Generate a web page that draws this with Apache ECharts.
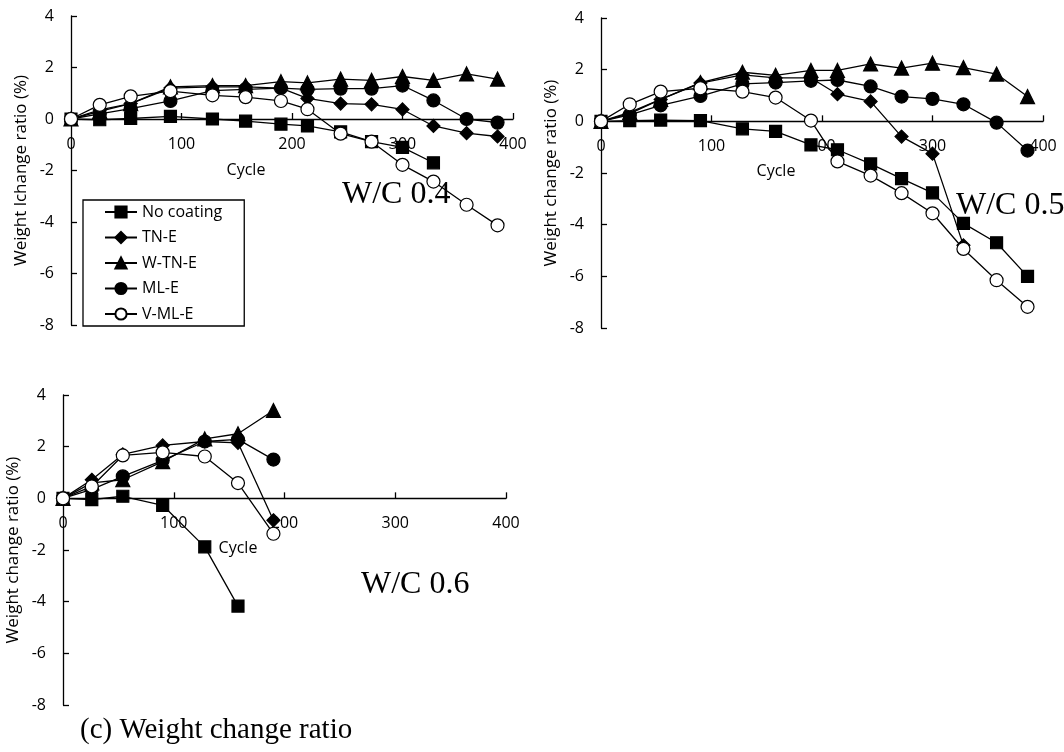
<!DOCTYPE html>
<html>
<head>
<meta charset="utf-8">
<title>Weight change ratio</title>
<script src="https://cdn.jsdelivr.net/npm/echarts@6.0.0/dist/echarts.min.js"></script>
<style>
  html, body { margin: 0; padding: 0; background: #fff; }
  #chart { width: 1064px; height: 752px; }
</style>
</head>
<body>
<div id="chart"></div>
<script>
// freeze-thaw cycles, shared by the three panels
const cycles = [0, 26, 54, 90, 128, 158, 190, 214, 244, 272, 300, 328, 358, 386];
const seriesNames = ['No coating', 'TN-E', 'W-TN-E', 'ML-E', 'V-ML-E'];
const xTicks = [0, 100, 200, 300, 400];
const yTicks = [-8, -6, -4, -2, 0, 2, 4];

// W/C 0.4
const wc04NoCoating = [0, -0.03, 0.02, 0.1, 0, -0.08, -0.2, -0.27, -0.5, -0.88, -1.1, -1.7];
const wc04TNE = [0, 0.35, 0.6, 1.2, 1.25, 1.25, 1.2, 0.8, 0.6, 0.57, 0.37, -0.27, -0.55, -0.68];
const wc04WTNE = [0, 0.3, 0.6, 1.25, 1.3, 1.3, 1.45, 1.4, 1.55, 1.5, 1.65, 1.5, 1.75, 1.55];
const wc04MLE = [0, 0.2, 0.4, 0.7, 1.1, 1.15, 1.2, 1.15, 1.18, 1.18, 1.3, 0.72, 0, -0.14];
const wc04VMLE = [0, 0.55, 0.88, 1.08, 0.92, 0.85, 0.7, 0.38, -0.57, -0.88, -1.78, -2.43, -3.33, -4.13];

// W/C 0.5
const wc05NoCoating = [0, 0.03, 0.05, 0.03, -0.29, -0.39, -0.91, -1.1, -1.65, -2.22, -2.77, -3.95, -4.7, -6.0];
const wc05TNE = [0, 0.3, 0.85, 1.48, 1.8, 1.68, 1.68, 1.05, 0.77, -0.59, -1.25, -4.8];
const wc05WTNE = [0, 0.35, 0.85, 1.5, 1.9, 1.78, 1.97, 1.97, 2.22, 2.06, 2.25, 2.08, 1.83, 0.96];
const wc05MLE = [0, 0.25, 0.62, 0.98, 1.45, 1.5, 1.57, 1.6, 1.35, 0.96, 0.87, 0.66, -0.05, -1.13];
const wc05VMLE = [0, 0.66, 1.15, 1.28, 1.15, 0.92, 0.03, -1.55, -2.1, -2.78, -3.56, -4.94, -6.15, -7.18];

// W/C 0.6
const wc06NoCoating = [0, -0.05, 0.08, -0.27, -1.88, -4.17];
const wc06TNE = [0, 0.72, 1.7, 2.05, 2.2, 2.15, -0.85];
const wc06WTNE = [0, 0.6, 0.72, 1.42, 2.3, 2.5, 3.4];
const wc06MLE = [0, 0.35, 0.85, 1.47, 2.2, 2.28, 1.5];
const wc06VMLE = [0, 0.46, 1.66, 1.78, 1.62, 0.59, -1.37];

const panels = [
  { yName: 'Weight lchange ratio (%)', data: [wc04NoCoating, wc04TNE, wc04WTNE, wc04MLE, wc04VMLE] },
  { yName: 'Weight change ratio (%)', data: [wc05NoCoating, wc05TNE, wc05WTNE, wc05MLE, wc05VMLE] },
  { yName: 'Weight change ratio (%)', data: [wc06NoCoating, wc06TNE, wc06WTNE, wc06MLE, wc06VMLE] }
];

const marks = {
  'No coating': { symbol: 'rect', size: 12, fill: '#000' },
  'TN-E': { symbol: 'diamond', size: 13, fill: '#000' },
  'W-TN-E': { symbol: 'triangle', size: 14, fill: '#000' },
  'ML-E': { symbol: 'circle', size: 13, fill: '#000' },
  'V-ML-E': { symbol: 'circle', size: 13, fill: '#fff' }
};

const sans = '"Open Sans", "DejaVu Sans", sans-serif';
const serif = '"Liberation Serif", "DejaVu Serif", serif';

const chart = echarts.init(document.getElementById('chart'));

const grids = [
  { left: 71, top: 16, width: 442, height: 309 },
  { left: 601, top: 18, width: 442, height: 310 },
  { left: 63, top: 395, width: 443, height: 310 }
];

// the x axis sits on y = 0; move it up from the grid bottom by the
// share of the y range that lies below zero
const yMin = yTicks[0], yMax = yTicks[yTicks.length - 1];
const xAxes = grids.map((g, i) => ({
  type: 'value',
  gridIndex: i,
  min: xTicks[0],
  max: xTicks[xTicks.length - 1],
  interval: 100,
  offset: -g.height * (0 - yMin) / (yMax - yMin),
  axisLine: { onZero: false, lineStyle: { color: '#000', width: 1.3 } },
  axisTick: { inside: true, length: 6, lineStyle: { color: '#000', width: 1.3 } },
  axisLabel: { margin: 17, color: '#000', fontSize: 16, fontFamily: sans },
  splitLine: { show: false }
}));

const yAxes = grids.map((g, i) => ({
  type: 'value',
  gridIndex: i,
  min: yMin,
  max: yMax,
  interval: 2,
  name: panels[i].yName,
  nameLocation: 'middle',
  nameGap: 41,
  nameTextStyle: { color: '#000', fontSize: 17, fontFamily: sans },
  axisLine: { show: true, onZero: false, lineStyle: { color: '#000', width: 1.3 } },
  axisTick: { show: true, inside: true, length: 6, lineStyle: { color: '#000', width: 1.3 } },
  axisLabel: { margin: 17, color: '#000', fontSize: 16, fontFamily: sans },
  splitLine: { show: false }
}));

const series = [];
panels.forEach((p, i) => {
  p.data.forEach((vals, k) => {
    const name = seriesNames[k];
    const m = marks[name];
    series.push({
      name: name,
      type: 'line',
      xAxisIndex: i,
      yAxisIndex: i,
      data: vals.map((v, j) => [cycles[j], v]),
      symbol: m.symbol,
      symbolSize: m.size,
      showAllSymbol: true,
      lineStyle: { color: '#000', width: 1.3 },
      itemStyle: { color: m.fill, borderColor: '#000', borderWidth: 1.2 },
      emphasis: { disabled: true },
      animation: false
    });
  });
});

const text = (x, y, str, font, align) => ({
  type: 'text',
  x: x,
  y: y,
  style: { text: str, font: font, fill: '#000', align: align || 'left', verticalAlign: 'middle' }
});

chart.setOption({
  backgroundColor: '#fff',
  animation: false,
  grid: grids,
  xAxis: xAxes,
  yAxis: yAxes,
  legend: {
    data: seriesNames,
    orient: 'vertical',
    left: 83,
    top: 200,
    itemWidth: 32,
    itemHeight: 14,
    itemGap: 9.5,
    padding: [4, 22, 4, 21],
    borderColor: '#000',
    borderWidth: 1.3,
    selectedMode: false,
    textStyle: { color: '#000', fontSize: 16, lineHeight: 16, fontFamily: sans }
  },
  graphic: [
    text(246, 170, 'Cycle', '16px ' + sans, 'center'),
    text(776, 171, 'Cycle', '16px ' + sans, 'center'),
    text(238, 548, 'Cycle', '16px ' + sans, 'center'),
    text(342, 195, 'W/C 0.4', '32px ' + serif),
    text(956, 206, 'W/C 0.5', '32px ' + serif),
    text(361, 585, 'W/C 0.6', '32px ' + serif),
    text(80, 730, '(c) Weight change ratio', '29px ' + serif)
  ],
  series: series
});
</script>
</body>
</html>
